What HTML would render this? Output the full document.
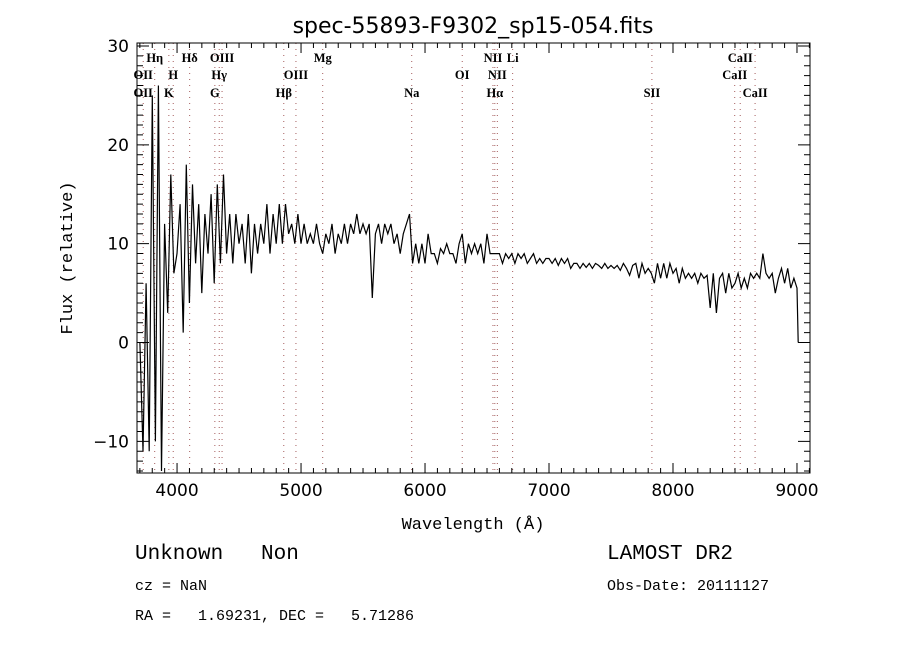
<!DOCTYPE html>
<html><head><meta charset="utf-8"><style>
html,body{margin:0;padding:0;background:#fff;}
svg{display:block;font-family:"DejaVu Sans","Liberation Sans",sans-serif;}
.mono{font-family:"Liberation Mono",monospace;}
.ser{font-family:"Liberation Serif",serif;font-weight:bold;}
</style></head><body>
<svg id="chart" width="900" height="650" viewBox="0 0 900 650">
<rect width="900" height="650" fill="#fff"/>
<text x="473" y="33" font-size="22" text-anchor="middle">spec-55893-F9302_sp15-054.fits</text>
<g id="lines"></g>
<g id="axes"></g>
<g id="series"></g>
<text class="mono" transform="translate(72,258) rotate(-90)" font-size="17" text-anchor="middle">Flux (relative)</text>
<text class="mono" x="473" y="529" font-size="17" text-anchor="middle">Wavelength (Å)</text>
<text class="mono" x="135" y="559" font-size="21" xml:space="preserve">Unknown   Non</text>
<text class="mono" x="135" y="590" font-size="15">cz = NaN</text>
<text class="mono" x="135" y="620" font-size="15" xml:space="preserve">RA =   1.69231, DEC =   5.71286</text>
<text class="mono" x="607" y="559" font-size="21">LAMOST DR2</text>
<text class="mono" x="607" y="590" font-size="15">Obs-Date: 20111127</text>
</svg>
<script>
const wlStart = 3700;
const wlStep = 25;
const flux = [0,-11,6,-11,25,-10,26,-13,12,3,17,7,9,14,1,18,4,16,8,14,5,13,9,15,6,16,8,17,9,13,8,13,10,12,8,13,7,12,9,12,10,14,9,13,10,14,10,14,11,12,10,13,10,12,10,11,10,12,10,9,11,10,12,9,11,10,12,10,12,11,13,11,12,11,12,4.5,11,12,10,12,11,12,10,11,9,11,12,13,8,10,8,10,8,11,9,9,8,9.5,9,10,9,9,8,10,11,8,10,9,10,9,10,8,11,9,9,9,9,8,9,8.5,9,8,9,8.5,9,8,8.5,9,8,8.5,8,8.5,8.5,8,8.5,7.8,8.5,8,8.5,7.5,8,8,7.5,8,7.6,8,7.5,8,7.8,7.5,8,7.5,7.8,7.5,7.8,7.3,8,7.5,6.8,7.8,8,6.5,8,7,7.5,7,6,8,6.5,8,6.5,8,7,7.5,6,7.5,6.5,7,6.5,7,6,7,6.5,6.8,3.5,7,3,6.5,7,5,7,5.5,6,7,5.5,6.5,5.5,7,6.5,7,6.5,9,7,6.5,7,5,6.5,7.5,6,7.5,5.5,6.5,5.5,0];
const lineWl = [3727,3820,3934,3969,4102,4305,4340,4363,4861,4959,5175,5893,6300,6548,6563,6583,6707,7830,8498,8542,8662];
const labelText = ["Hη","Hδ","OIII","Mg","NII","Li","CaII","OII","H","Hγ","OIII","OI","NII","CaII","OII","K","G","Hβ","Na","Hα","SII","CaII"];
const labelWl = [3820,4102,4363,5175,6548,6707,8542,3727,3969,4340,4959,6300,6583,8498,3727,3934,4305,4861,5893,6563,7830,8662];
const labelRow = [0,0,0,0,0,0,0,1,1,1,1,1,1,1,2,2,2,2,2,2,2,2];
const xTicks = [4000,5000,6000,7000,8000,9000];
const yTicks = [-10,0,10,20,30];

const X0=137,X1=810,Y0=43,Y1=473;
const xMin=3677,xMax=9105,yMin=-13.2,yMax=30.3;
const sx=w=>X0+(w-xMin)/(xMax-xMin)*(X1-X0);
const sy=v=>Y1-(v-yMin)/(yMax-yMin)*(Y1-Y0);
const NS="http://www.w3.org/2000/svg";
function mk(tag,attrs,parent){const e=document.createElementNS(NS,tag);for(const k in attrs)e.setAttribute(k,attrs[k]);parent.appendChild(e);return e;}

const gl=document.getElementById('lines');
lineWl.forEach(w=>{
  const l=mk('line',{x1:sx(w),x2:sx(w),y1:Y0,y2:Y1,stroke:'#9a4a4a','stroke-width':0.9,'stroke-dasharray':'1,5'},gl);
  
  
});
const rowY=[62,79,97];
labelText.forEach((t,i)=>{
  const tx=mk('text',{x:sx(labelWl[i]),y:rowY[labelRow[i]],'font-size':12.5,'text-anchor':'middle',class:'ser'},gl);
  tx.textContent=t;
  
  
});

const ga=document.getElementById('axes');
const fr=mk('rect',{x:X0,y:Y0,width:X1-X0,height:Y1-Y0,fill:'none',stroke:'#000','stroke-width':1},ga);


let d='';
for(let w=3700;w<=9100;w+=100){const x=sx(w);const L=(w%1000===0)?10:5;d+=`M${x},${Y1}v${-L}M${x},${Y0}v${L}`;}
for(let v=-13;v<=30;v++){const y=sy(v);const L=(v%10===0)?12:6;d+=`M${X0},${y}h${L}M${X1},${y}h${-L}`;}
const tk=mk('path',{d:d,stroke:'#000','stroke-width':1,fill:'none'},ga);


xTicks.forEach(w=>{
  const t=mk('text',{x:sx(w),y:Y1+23,'font-size':17,'text-anchor':'middle'},ga);
  t.textContent=w;
  
  
});
yTicks.forEach(v=>{
  const t=mk('text',{x:X0-8,y:sy(v)+6,'font-size':17,'text-anchor':'end'},ga);
  t.textContent=(v<0?'−':'')+Math.abs(v);
  
  
});

const gs=document.getElementById('series');
const cp=mk('clipPath',{id:'clip'},gs);mk('rect',{x:X0,y:Y0,width:X1-X0,height:Y1-Y0},cp);
const pts=flux.map((v,i)=>{const w=i===flux.length-1?wlStart+(i-1)*wlStep+10:wlStart+i*wlStep;return sx(w).toFixed(1)+','+sy(v).toFixed(1);}).join(' ');
const pl=mk('polyline',{points:pts,fill:'none',stroke:'#000','stroke-width':1.2,'clip-path':'url(#clip)'},gs);


</script>
</body></html>
